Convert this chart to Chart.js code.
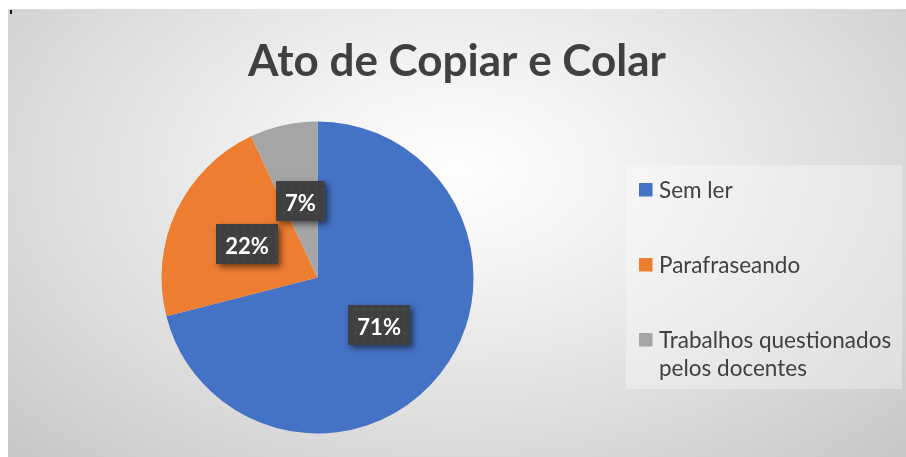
<!DOCTYPE html>
<html>
<head>
<meta charset="utf-8">
<script src="https://cdn.jsdelivr.net/npm/chart.js@4.4.1/dist/chart.umd.min.js"></script>
<style>
  html, body { margin: 0; padding: 0; background: #ffffff; }
  body { width: 906px; height: 457px; position: relative; overflow: hidden; }
  #frame {
    position: absolute; left: 8px; top: 9px; width: 898px; height: 448px;
    background: radial-gradient(ellipse farthest-corner at 50% 36%, #fefefe 0%, #f3f3f3 25%, #dedede 62%, #c7c7c7 100%);
  }
  #mark { position: absolute; left: 10px; top: 10px; width: 2px; height: 4px; background: #111; }
  canvas { position: absolute; left: 0; top: 0; }
</style>
</head>
<body>
<div id="frame"><canvas id="c" width="898" height="448"></canvas></div>
<div id="mark"></div>
<script>
// ---- data ----
const chartTitle = 'Ato de Copiar e Colar';
const categories = ['Sem ler', 'Parafraseando', 'Trabalhos questionados pelos docentes'];
const values = [71, 22, 7];
const colors = ['#4472C4', '#ED7D31', '#A5A5A5'];

const total = values.reduce((a, b) => a + b, 0);
const pctLabels = values.map(v => Math.round(v / total * 100) + '%');

// dotted pattern for the data label boxes
function makePattern(ctx) {
  const p = document.createElement('canvas');
  p.width = 8; p.height = 8;
  const pc = p.getContext('2d');
  pc.fillStyle = '#404040';
  pc.fillRect(0, 0, 8, 8);
  pc.fillStyle = '#4b4b4b';
  pc.fillRect(3, 3, 2, 2);
  return ctx.createPattern(p, 'repeat');
}

const labelPlugin = {
  id: 'boxLabels',
  afterDatasetsDraw(chart) {
    const ctx = chart.ctx;
    const meta = chart.getDatasetMeta(0);
    const pattern = makePattern(ctx);
    ctx.save();
    ctx.font = 'bold 22px Lato';
    meta.data.forEach((arc, i) => {
      const pos = arc.tooltipPosition();
      const text = pctLabels[i];
      const tw = ctx.measureText(text).width;
      const w = Math.round(tw + 18), h = 40;
      const x0 = Math.round(pos.x - w / 2), y0 = Math.round(pos.y - h / 2);
      ctx.save();
      ctx.shadowColor = 'rgba(0,0,0,0.55)';
      ctx.shadowBlur = 6;
      ctx.shadowOffsetX = 3;
      ctx.shadowOffsetY = 3;
      ctx.fillStyle = '#404040';
      ctx.fillRect(x0, y0, w, h);
      ctx.restore();
      ctx.fillStyle = pattern;
      ctx.fillRect(x0, y0, w, h);
      ctx.fillStyle = '#ffffff';
      ctx.textAlign = 'center';
      ctx.textBaseline = 'alphabetic';
      ctx.fillText(text, pos.x, pos.y + 9.5);
    });
    ctx.restore();
  }
};

function wrapText(ctx, text, maxW) {
  const words = text.split(' ');
  const lines = [];
  let cur = '';
  words.forEach(wd => {
    const t = cur ? cur + ' ' + wd : wd;
    if (ctx.measureText(t).width > maxW && cur) { lines.push(cur); cur = wd; }
    else cur = t;
  });
  if (cur) lines.push(cur);
  return lines;
}

// right-side legend as a layout box
const legendPlugin = {
  id: 'sideLegend',
  beforeInit(chart) {
    const box = {
      position: 'right',
      weight: 10,
      fullSize: true,
      options: {},
      isHorizontal() { return false; },
      update(maxWidth, maxHeight) { this.width = 279; this.height = maxHeight; },
      draw() {
        const ctx = chart.ctx;
        const ca = chart.chartArea;
        const cy = (ca.top + ca.bottom) / 2;
        const rx = this.left - 1, ry = Math.round(cy - 112.5);
        ctx.save();
        ctx.fillStyle = 'rgba(255,255,255,0.32)';
        ctx.fillRect(rx, ry, 276, 224);
        ctx.font = '22.5px Lato';
        ctx.textBaseline = 'alphabetic';
        ctx.textAlign = 'left';
        categories.forEach((cat, i) => {
          const sqTop = ry + 18 + i * 75;
          ctx.fillStyle = colors[i];
          ctx.fillRect(rx + 13, sqTop, 13.5, 13.5);
          ctx.fillStyle = '#404040';
          const lines = wrapText(ctx, cat, 245);
          lines.forEach((ln, j) => {
            ctx.fillText(ln, rx + 33, sqTop + 14.7 + j * 28.5);
          });
        });
        ctx.restore();
      }
    };
    Chart.layouts.addBox(chart, box);
  }
};

new Chart(document.getElementById('c'), {
  type: 'pie',
  data: {
    labels: categories,
    datasets: [{
      data: values,
      backgroundColor: colors,
      borderWidth: 0
    }]
  },
  options: {
    responsive: false,
    animation: false,
    layout: { padding: { top: 0, left: 0, right: 0, bottom: 23.5 } },
    plugins: {
      legend: { display: false },
      tooltip: { enabled: false },
      title: {
        display: true,
        text: chartTitle,
        color: '#404040',
        font: { family: 'Lato', size: 44, weight: 'bold', lineHeight: 1.2 },
        padding: { top: 26.1, bottom: 33.6 }
      }
    }
  },
  plugins: [legendPlugin, labelPlugin]
});
</script>
</body>
</html>
